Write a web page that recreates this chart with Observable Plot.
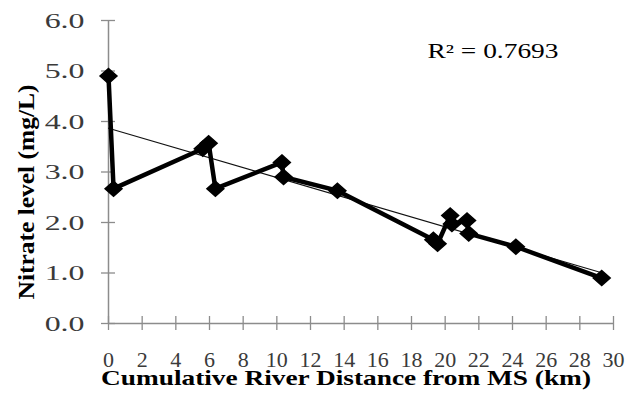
<!DOCTYPE html>
<html>
<head>
<meta charset="utf-8">
<script src="https://cdn.jsdelivr.net/npm/d3@7"></script>
<script src="https://cdn.jsdelivr.net/npm/@observablehq/plot@0.6"></script>
<style>
  html, body { margin: 0; padding: 0; background: #fff; }
  svg { display: block; }
  svg text { font-family: 'Liberation Serif', 'Times New Roman', serif; }
</style>
</head>
<body>
<div id="chart"></div>
<script>
// Data
const distanceKm = [0, 0.3, 5.6, 5.95, 6.35, 10.3, 10.4, 13.6, 19.3, 19.55, 20.3, 20.4, 21.3, 21.4, 24.2, 29.3];
const nitrateMgL = [4.9, 2.67, 3.46, 3.57, 2.67, 3.19, 2.9, 2.63, 1.66, 1.58, 2.14, 1.97, 2.04, 1.78, 1.52, 0.9];
const xTicks = [0, 2, 4, 6, 8, 10, 12, 14, 16, 18, 20, 22, 24, 26, 28, 30];
const yTicks = [0, 1, 2, 3, 4, 5, 6];
const xTitle = "Cumulative River Distance from MS (km)";
const yTitle = "Nitrate level (mg/L)";
const r2Label = "R\u00B2 = 0.7693";

const data = distanceKm.map((d, i) => ({distance: d, nitrate: nitrateMgL[i]}));

const serif = "'Liberation Serif', 'Times New Roman', serif";
const axisGray = "#8c8c8c";
const yFmt = d3.format(".1f");

// slightly wide diamond marker
const wideDiamond = {
  draw(context, size) {
    const r = Math.sqrt(size / Math.PI);
    const w = r * 1.3, h = r * 1.15;
    context.moveTo(0, -h);
    context.lineTo(w, 0);
    context.lineTo(0, h);
    context.lineTo(-w, 0);
    context.closePath();
  }
};

const chart = Plot.plot({
  width: 637,
  height: 396,
  marginLeft: 108,
  marginRight: 24,
  marginTop: 20,
  marginBottom: 73,
  style: {fontFamily: serif, background: "#fff"},
  x: {domain: [0, 30]},
  y: {domain: [0, 6]},
  marks: [
    Plot.ruleX([0], {stroke: axisGray, strokeWidth: 1.5}),
    Plot.ruleY([0], {stroke: axisGray, strokeWidth: 1.5}),
    Plot.ruleX(xTicks, {x: d => d, y1: 0, y2: 0, insetTop: -7, insetBottom: -7, stroke: axisGray, strokeWidth: 1.3}),
    Plot.ruleY(yTicks, {y: d => d, x1: 0, x2: 0, insetLeft: -7, insetRight: -7, stroke: axisGray, strokeWidth: 1.3}),
    Plot.axisX({ticks: xTicks, tickSize: 0, tickPadding: 28, fontSize: 22, fontFamily: serif, color: "#3a3a3a", label: null, tickFormat: d3.format("d")}),
    Plot.axisY({ticks: yTicks, tickSize: 0, tickPadding: 24, fontSize: 22, fontFamily: serif, color: "#3a3a3a", label: null, tickFormat: yFmt}),
    Plot.linearRegressionY(data, {x: "distance", y: "nitrate", ci: 0, stroke: "#111", strokeWidth: 1.1}),
    Plot.line(data, {x: "distance", y: "nitrate", stroke: "#000", strokeWidth: 4.5}),
    Plot.dot(data, {x: "distance", y: "nitrate", symbol: wideDiamond, r: 6.5, fill: "#000", stroke: "#000"}),
    Plot.text([r2Label], {text: d => d, frameAnchor: "top-right", textAnchor: "start", lineAnchor: "middle", dx: -186, dy: 31, fontSize: 20, fontFamily: serif, fill: "#000"}),
    Plot.text([xTitle], {text: d => d, frameAnchor: "bottom", textAnchor: "middle", lineAnchor: "middle", dx: -15, dy: 54, fontSize: 22, fontWeight: "bold", fontFamily: serif, fill: "#000"}),
    Plot.text([yTitle], {text: d => d, frameAnchor: "left", textAnchor: "middle", lineAnchor: "middle", rotate: -90, dx: -82, dy: 20, fontSize: 23, fontWeight: "bold", fontFamily: serif, fill: "#000"})
  ]
});

document.getElementById("chart").appendChild(chart);

// Match the reference's horizontally stretched lettering
const yTickTexts = new Set(yTicks.map(yFmt));
const targets = new Map([[xTitle, 490], [yTitle, 215], [r2Label, 131]]);
d3.select(chart).selectAll("text").each(function () {
  const t = this.textContent;
  if (targets.has(t)) {
    this.setAttribute("textLength", targets.get(t));
    this.setAttribute("lengthAdjust", "spacingAndGlyphs");
  } else if (yTickTexts.has(t)) {
    const sx = 1.45;
    const tr = this.getAttribute("transform");
    if (tr) {
      this.setAttribute("transform", tr + ` scale(${sx},1)`);
    } else {
      const x = +this.getAttribute("x") || 0, y = +this.getAttribute("y") || 0;
      this.removeAttribute("x"); this.removeAttribute("y");
      this.setAttribute("transform", `translate(${x},${y}) scale(${sx},1)`);
    }
  }
});
</script>
</body>
</html>
